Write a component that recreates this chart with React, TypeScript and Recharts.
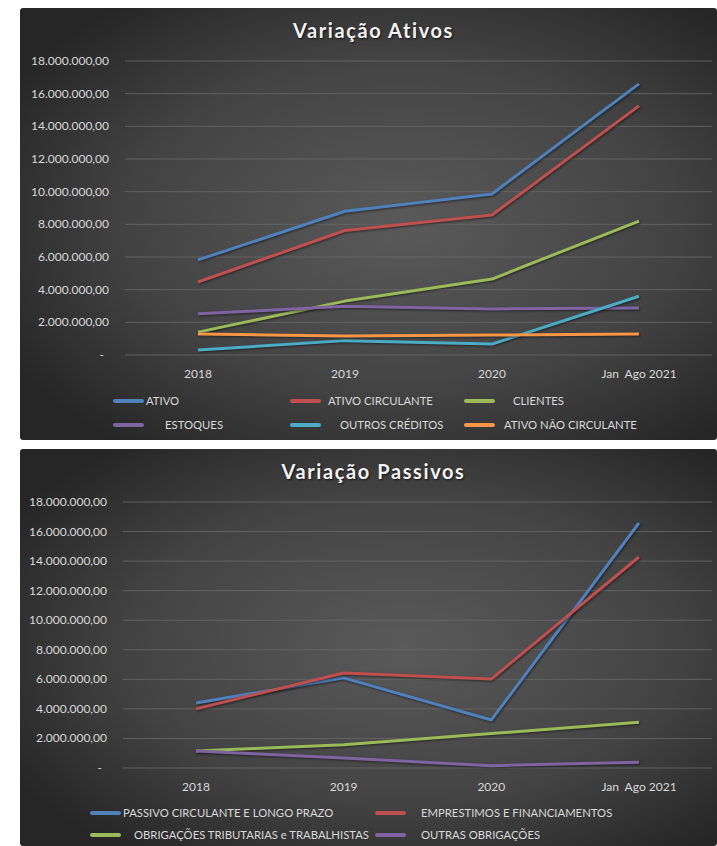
import React from "react";
import { LineChart, Line, XAxis, YAxis, CartesianGrid } from "recharts";

const categories = ["2018", "2019", "2020", "Jan  Ago 2021"];
const yTicks = [0, 2000000, 4000000, 6000000, 8000000, 10000000, 12000000, 14000000, 16000000, 18000000];

// Variação Ativos
const ativo = [5820000, 8800000, 9860000, 16600000];
const ativoCirculante = [4470000, 7620000, 8570000, 15250000];
const clientes = [1400000, 3300000, 4650000, 8200000];
const estoques = [2520000, 2980000, 2820000, 2880000];
const outrosCreditos = [300000, 880000, 670000, 3600000];
const ativoNaoCirculante = [1280000, 1170000, 1220000, 1280000];

// Variação Passivos
const passivoCirculante = [4400000, 6100000, 3250000, 16580000];
const emprestimos = [4000000, 6430000, 6020000, 14280000];
const obrigacoes = [1150000, 1580000, 2330000, 3100000];
const outrasObrigacoes = [1150000, 680000, 160000, 390000];

const ativosSeries = [
  { key: "ativo", name: "ATIVO", values: ativo, color: "#4F81BD" },
  { key: "ativoCirculante", name: "ATIVO CIRCULANTE", values: ativoCirculante, color: "#C0504D" },
  { key: "clientes", name: "CLIENTES", values: clientes, color: "#9BBB59" },
  { key: "estoques", name: "ESTOQUES", values: estoques, color: "#8064A2" },
  { key: "outrosCreditos", name: "OUTROS CRÉDITOS", values: outrosCreditos, color: "#4BACC6" },
  { key: "ativoNaoCirculante", name: "ATIVO NÃO CIRCULANTE", values: ativoNaoCirculante, color: "#F79646" },
];

const passivosSeries = [
  { key: "passivo", name: "PASSIVO CIRCULANTE E LONGO PRAZO", values: passivoCirculante, color: "#4F81BD" },
  { key: "emprestimos", name: "EMPRESTIMOS E FINANCIAMENTOS", values: emprestimos, color: "#C0504D" },
  { key: "obrigacoes", name: "OBRIGAÇÕES TRIBUTARIAS e TRABALHISTAS", values: obrigacoes, color: "#9BBB59" },
  { key: "outras", name: "OUTRAS OBRIGAÇÕES", values: outrasObrigacoes, color: "#8064A2" },
];

function buildRows(series: typeof ativosSeries) {
  return categories.map((c, i) => {
    const row: any = { cat: c };
    series.forEach((s) => (row[s.key] = s.values[i]));
    return row;
  });
}

const FONT = "Lato, 'Open Sans', sans-serif";
const TEXT = "#d9d9d9";

function fmt(v: number) {
  if (v === 0) return "-";
  const n = Math.round(v);
  const s = n.toString().replace(/\B(?=(\d{3})+(?!\d))/g, ".");
  return s + ",00";
}

const YTick = (props: any) => {
  const { x, y, payload } = props;
  const v = payload.value;
  return (
    <text x={v === 0 ? x - 5 : x} y={y} dy={4} textAnchor="end" fill={TEXT} fontSize={12} fontFamily={FONT}>
      {fmt(v)}
    </text>
  );
};

const XTick = (props: any) => {
  const { x, y, payload } = props;
  return (
    <text x={x} y={y} dy={9} textAnchor="middle" fill={TEXT} fontSize={12} fontFamily={FONT} xmlSpace="preserve" style={{ whiteSpace: "pre" }}>
      {payload.value}
    </text>
  );
};

function Panel(props: {
  id: string;
  top: number;
  height: number;
  title: string;
  titleY: number;
  series: typeof ativosSeries;
  yLeft: number;
  bottom: number;
  legend: { y: number; lineX: number; textX: number }[];
}) {
  const { id, top, height, title, titleY, series, yLeft, bottom, legend } = props;
  const W = 697;
  const rows = buildRows(series);
  return (
    <div style={{ position: "absolute", left: 20, top, width: W, height, borderRadius: 3, overflow: "hidden" }}>
      <svg width={W} height={height} style={{ position: "absolute", left: 0, top: 0 }}>
        <defs>
          <radialGradient id={id + "bg"} cx="55%" cy="50%" r="65%">
            <stop offset="0%" stopColor="#5a5a5a" />
            <stop offset="60%" stopColor="#434343" />
            <stop offset="100%" stopColor="#262626" />
          </radialGradient>
        </defs>
        <rect x={0} y={0} width={W} height={height} fill={`url(#${id}bg)`} />
      </svg>
      <div
        style={{
          position: "absolute",
          left: 0,
          width: W,
          top: titleY,
          textAlign: "center",
          fontFamily: FONT,
          fontWeight: 700,
          fontSize: 20,
          letterSpacing: 1.6,
          color: "#f2f2f2",
          textShadow: "1px 1px 2px rgba(0,0,0,0.7)",
          paddingLeft: 10,
          boxSizing: "border-box",
          lineHeight: "24px",
        }}
      >
        {title}
      </div>
      <div style={{ position: "absolute", left: 0, top: 0 }}>
        <LineChart width={W} height={height} data={rows} margin={{ top: 53, right: 5, left: 0, bottom }}>
          <CartesianGrid vertical={false} stroke="#6a6a6a" strokeWidth={0.8} />
          <XAxis
            dataKey="cat"
            axisLine={false}
            tickLine={false}
            tickSize={0}
            tickMargin={14}
            height={30}
            tick={<XTick />}
            interval={0}
            padding={{ left: 73, right: 73 }}
          />
          <YAxis
            domain={[0, 18000000]}
            ticks={yTicks}
            axisLine={false}
            tickLine={false}
            tickSize={0}
            tickMargin={16}
            width={yLeft}
            tick={<YTick />}
            interval={0}
          />
          {series.map((s) => (
            <Line
              key={s.key}
              dataKey={s.key}
              name={s.name}
              stroke={s.color}
              strokeWidth={3}
              dot={false}
              activeDot={false}
              isAnimationActive={false}
              strokeLinejoin="round"
              style={{ filter: "drop-shadow(1px 1px 1px rgba(0,0,0,0.5))" }}
            />
          ))}
        </LineChart>
      </div>
      {series.map((s, i) => {
        const l = legend[i];
        return (
          <React.Fragment key={s.key}>
            <div
              style={{
                position: "absolute",
                left: l.lineX,
                top: l.y - 2,
                width: 31,
                height: 4,
                background: s.color,
                borderRadius: 2,
              }}
            />
            <div
              style={{
                position: "absolute",
                left: l.textX,
                top: l.y - 8,
                fontFamily: FONT,
                fontSize: 11.3,
                lineHeight: "16px",
                color: TEXT,
                whiteSpace: "pre",
              }}
            >
              {s.name}
            </div>
          </React.Fragment>
        );
      })}
    </div>
  );
}

const ativosLegend = [
  { y: 393, lineX: 93, textX: 126 },
  { y: 393, lineX: 270, textX: 308 },
  { y: 393, lineX: 444, textX: 493 },
  { y: 417, lineX: 93, textX: 145 },
  { y: 417, lineX: 270, textX: 320 },
  { y: 417, lineX: 444, textX: 484 },
];

const passivosLegend = [
  { y: 364, lineX: 70, textX: 103 },
  { y: 364, lineX: 355, textX: 401 },
  { y: 386, lineX: 70, textX: 114 },
  { y: 386, lineX: 355, textX: 401 },
];

export default function App() {
  return (
    <div style={{ position: "absolute", left: 0, top: 0, width: 717, height: 846, background: "#ffffff", overflow: "hidden" }}>
      <Panel
        id="ativos"
        top={8}
        height={432}
        title="Variação Ativos"
        titleY={10}
        series={ativosSeries}
        yLeft={105}
        bottom={55}
        legend={ativosLegend}
      />
      <Panel
        id="passivos"
        top={449}
        height={397}
        title="Variação Passivos"
        titleY={10}
        series={passivosSeries}
        yLeft={103}
        bottom={48}
        legend={passivosLegend}
      />
    </div>
  );
}
